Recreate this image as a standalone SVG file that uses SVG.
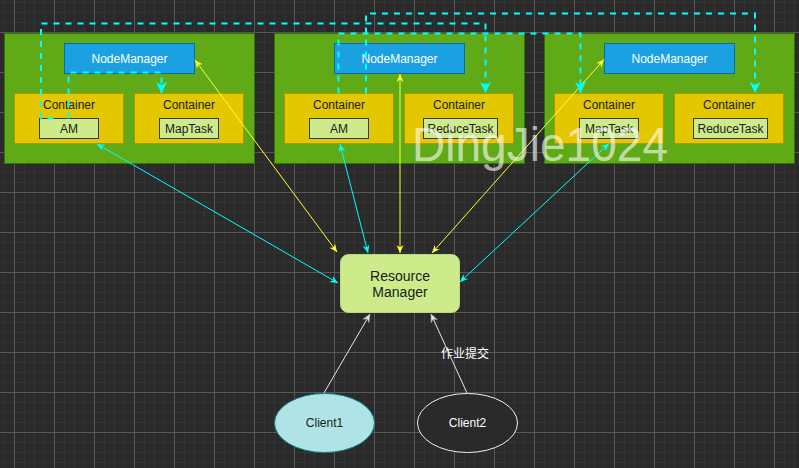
<svg xmlns="http://www.w3.org/2000/svg" width="799" height="468" viewBox="0 0 799 468">
<defs>
<pattern id="grid" x="14" y="32" width="40" height="40" patternUnits="userSpaceOnUse">
<rect width="40" height="40" fill="#2a2a2a"/>
<path d="M10.5,0V40M20.5,0V40M30.5,0V40M0,10.5H40M0,20.5H40M0,30.5H40" stroke="#333333" stroke-width="1"/>
<path d="M0.5,0V40M0,0.5H40" stroke="#575757" stroke-width="1"/>
</pattern>
<marker id="ay" markerUnits="userSpaceOnUse" markerWidth="9" markerHeight="8" refX="8" refY="3.5" orient="auto-start-reverse" overflow="visible">
<path d="M0,0 L8,3.5 L0,7 L2.5,3.5 Z" fill="#ffff33"/>
</marker>
<marker id="ac" markerUnits="userSpaceOnUse" markerWidth="9" markerHeight="8" refX="8" refY="3.5" orient="auto-start-reverse" overflow="visible">
<path d="M0,0 L8,3.5 L0,7 L2.5,3.5 Z" fill="#00ffff"/>
</marker>
<marker id="aw" markerUnits="userSpaceOnUse" markerWidth="9" markerHeight="8" refX="8" refY="3.5" orient="auto-start-reverse" overflow="visible">
<path d="M0,0 L8,3.5 L0,7 L2.5,3.5 Z" fill="#e6e6e6" stroke="#9a9a9a" stroke-width="0.5"/>
</marker>
<marker id="ad" markerUnits="userSpaceOnUse" markerWidth="12" markerHeight="12" refX="11" refY="5.5" orient="auto" overflow="visible">
<path d="M0,0 L11,5.5 L0,11 L3,5.5 Z" fill="#00ffff"/>
</marker>
</defs>
<style>
text{font-family:"Liberation Sans",Arial,sans-serif;font-size:12px;text-anchor:middle}
.host{fill:#60a917;stroke:#2d7600;stroke-width:1}
.nm{fill:#1ba1e2;stroke:#006eaf;stroke-width:1}
.nm-t{fill:#ffffff}
.ct{fill:#e3c800;stroke:#b09500;stroke-width:1}
.ct-t{fill:#1a1a1a}
.task{fill:#cdeb8b;stroke:#36393d;stroke-width:1}
.task-t{fill:#1a1a1a}
.y{stroke:#ffff33;stroke-width:1;fill:none;marker-start:url(#ay);marker-end:url(#ay)}
.c{stroke:#00ffff;stroke-width:1;fill:none;marker-start:url(#ac);marker-end:url(#ac)}
.w{stroke:#e6e6e6;stroke-width:1;fill:none;marker-end:url(#aw)}
.d{stroke:#00ffff;stroke-width:2;fill:none;stroke-dasharray:6 6;marker-end:url(#ad)}
</style>
<rect id="background" x="0" y="0" width="799" height="468" fill="url(#grid)"/>

<g id="host1"><rect class="host" x="4.5" y="33.5" width="250" height="130"/></g>
<g id="host2"><rect class="host" x="274.5" y="33.5" width="250" height="130"/></g>
<g id="host3"><rect class="host" x="544.5" y="33.5" width="250" height="130"/></g>

<g id="nm1"><rect class="nm" x="64.5" y="43.5" width="130" height="30"/><text class="nm-t" x="129.5" y="63.3">NodeManager</text></g>
<g id="nm2"><rect class="nm" x="334.5" y="43.5" width="130" height="30"/><text class="nm-t" x="399.5" y="63.3">NodeManager</text></g>
<g id="nm3"><rect class="nm" x="604.5" y="43.5" width="130" height="30"/><text class="nm-t" x="669.5" y="63.3">NodeManager</text></g>

<g id="c1a"><rect class="ct" x="14.5" y="93.5" width="109" height="50"/><text class="ct-t" x="69" y="108.6">Container</text></g>
<g id="c1b"><rect class="ct" x="134.5" y="93.5" width="109" height="50"/><text class="ct-t" x="189" y="108.6">Container</text></g>
<g id="c2a"><rect class="ct" x="284.5" y="93.5" width="109" height="50"/><text class="ct-t" x="339" y="108.6">Container</text></g>
<g id="c2b"><rect class="ct" x="404.5" y="93.5" width="109" height="50"/><text class="ct-t" x="459" y="108.6">Container</text></g>
<g id="c3a"><rect class="ct" x="554.5" y="93.5" width="109" height="50"/><text class="ct-t" x="609" y="108.6">Container</text></g>
<g id="c3b"><rect class="ct" x="674.5" y="93.5" width="109" height="50"/><text class="ct-t" x="729" y="108.6">Container</text></g>

<g id="am1"><rect class="task" x="39.5" y="118.5" width="59" height="20"/><text class="task-t" x="69" y="132.8">AM</text></g>
<g id="maptask1"><rect class="task" x="159.5" y="118.5" width="59" height="20"/><text class="task-t" x="189" y="132.8">MapTask</text></g>
<g id="am2"><rect class="task" x="309.5" y="118.5" width="59" height="20"/><text class="task-t" x="339" y="132.8">AM</text></g>
<g id="reducetask2"><rect class="task" x="423.5" y="118.5" width="74" height="20"/><text class="task-t" x="460.5" y="132.8">ReduceTask</text></g>
<g id="maptask3"><rect class="task" x="579.5" y="118.5" width="59" height="20"/><text class="task-t" x="609" y="132.8">MapTask</text></g>
<g id="reducetask3"><rect class="task" x="693.5" y="118.5" width="74" height="20"/><text class="task-t" x="730.5" y="132.8">ReduceTask</text></g>

<g id="rm"><rect x="340.5" y="254.5" width="119" height="58" rx="8" fill="#cdeb8b" stroke="#bcd97e" stroke-width="1"/><text x="400" y="280.7" style="font-size:14px;fill:#1a1a1a">Resource</text><text x="400" y="296.7" style="font-size:14px;fill:#1a1a1a">Manager</text></g>

<g id="client1"><ellipse cx="324.5" cy="423" rx="50" ry="29.5" fill="#b0e3e6" stroke="#0e8088" stroke-width="1"/><text x="324.5" y="427.3" fill="#1a1a1a">Client1</text></g>
<g id="client2"><ellipse cx="467.5" cy="423" rx="50" ry="29.5" fill="#2a2a2a" stroke="#f0f0f0" stroke-width="1"/><text x="467.5" y="427.3" fill="#ffffff">Client2</text></g>

<g id="connectors">
<path class="y" d="M195,60 L337,252"/>
<path class="c" d="M97,144 L338,283"/>
<path class="c" d="M340,144 L368,253"/>
<path class="y" d="M400,74 L400,253"/>
<path class="y" d="M604,59.5 L432,253"/>
<path class="c" d="M609,143.5 L460,282"/>
<path class="w" d="M324,393 L370,314"/>
<path class="w" d="M467,393 L431,314"/>
<path class="d" d="M53.5,118.5 H41 V23.5 H485.5 V93"/>
<path class="d" d="M68.5,118.5 V72.5 H161.5 V93"/>
<path class="d" d="M338.5,93.5 V33.5 H580.5 V93"/>
<path class="d" d="M366,93.5 V13.5 H755 V93"/>
<text x="465" y="357.5" style="font-family:'Liberation Sans','Noto Sans CJK SC',sans-serif;fill:#ffffff">作业提交</text>
</g>

<text id="watermark" x="412" y="161" textLength="256" lengthAdjust="spacingAndGlyphs" style="font-size:48px;text-anchor:start;fill:#ffffff;fill-opacity:0.62">DingJie1024</text>
</svg>
